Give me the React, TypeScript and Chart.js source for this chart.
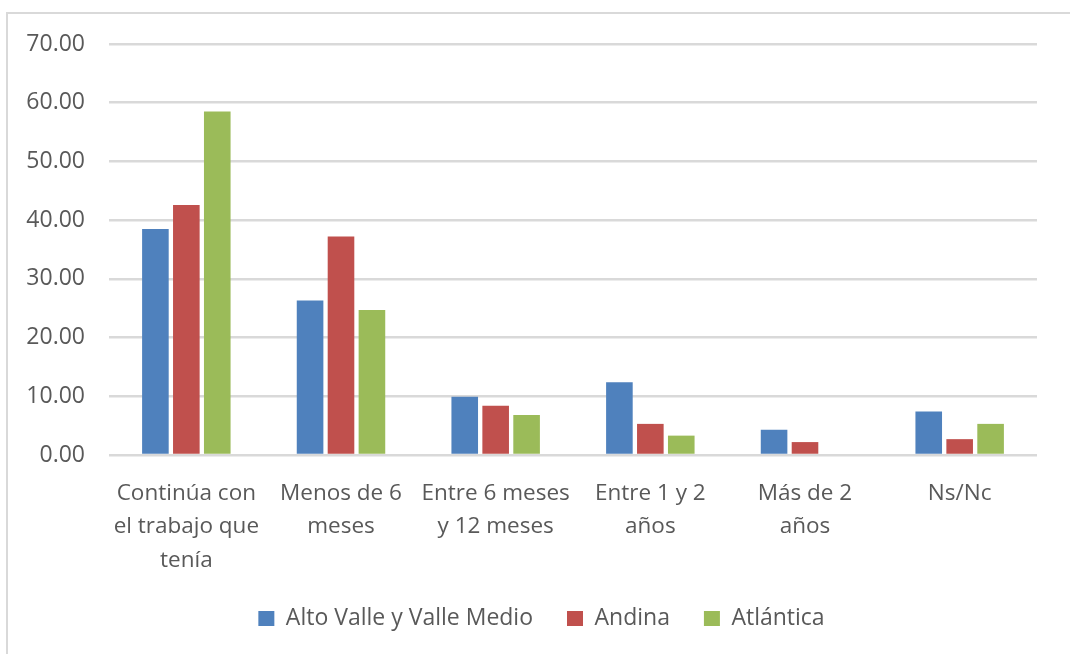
import React, { useEffect, useRef } from "react";
import { Chart, registerables } from "chart.js";

Chart.register(...registerables);

const categories: string[][] = [
  ["Continúa con", "el trabajo que", "tenía"],
  ["Menos de 6", "meses"],
  ["Entre 6 meses", "y 12 meses"],
  ["Entre 1 y 2", "años"],
  ["Más de 2", "años"],
  ["Ns/Nc"],
];

const altoValle: number[] = [38.5, 26.3, 9.9, 12.4, 4.3, 7.4];
const andina: number[] = [42.6, 37.2, 8.4, 5.3, 2.2, 2.7];
const atlantica: number[] = [58.5, 24.7, 6.8, 3.3, 0, 5.3];

const seriesNames = ["Alto Valle y Valle Medio", "Andina", "Atlántica"];
const seriesColors = ["#4F81BD", "#C0504D", "#9BBB59"];

const yMin = 0;
const yMax = 70;
const yStep = 10;

const FONT = "'Open Sans', 'Noto Sans', sans-serif";
const TEXT = "#595959";
const GRID = "#d9d9d9";

const legendShift = {
  id: "legendShift",
  afterLayout(chart: any) {
    const l = chart.legend;
    if (l) {
      l.left += 23;
      l.right += 23;
    }
  },
};

export default function App() {
  const ref = useRef<HTMLCanvasElement | null>(null);

  useEffect(() => {
    if (!ref.current) return;
    const values = [altoValle, andina, atlantica];
    const chart = new Chart(ref.current, {
      type: "bar",
      data: {
        labels: categories,
        datasets: values.map((v, i) => ({
          label: seriesNames[i],
          data: v,
          backgroundColor: seriesColors[i],
          borderWidth: 0,
          categoryPercentage: 0.6,
          barPercentage: 0.86,
        })),
      },
      plugins: [legendShift],
      options: {
        animation: false,
        responsive: false,
        maintainAspectRatio: false,
        layout: { padding: { left: 0, right: 33, top: 44, bottom: 14 } },
        plugins: {
          tooltip: { enabled: false },
          legend: {
            position: "bottom",
            labels: {
              boxWidth: 16,
              boxHeight: 15,
              padding: 34,
              color: TEXT,
              font: { family: FONT, size: 23 },
            },
          },
        },
        scales: {
          x: {
            grid: { display: false, drawTicks: false },
            border: { display: false },
            ticks: {
              color: TEXT,
              padding: 22,
              maxRotation: 0,
              autoSkip: false,
              font: { family: FONT, size: 22.5, lineHeight: 1.48 },
            },
            afterFit: (scale: any) => {
              scale.height = 118;
            },
          },
          y: {
            min: yMin,
            max: yMax,
            grid: { color: GRID, lineWidth: 2.5, drawTicks: false },
            border: { display: false },
            ticks: {
              stepSize: yStep,
              color: TEXT,
              padding: 24,
              font: { family: FONT, size: 23 },
              callback: (v: any) => Number(v).toFixed(2),
            },
            afterFit: (scale: any) => {
              scale.width = 109;
            },
          },
        },
      },
    });
    return () => chart.destroy();
  }, []);

  return (
    <div
      style={{
        position: "fixed",
        left: 0,
        top: 0,
        width: 1070,
        height: 654,
        overflow: "hidden",
        background: "#fff",
      }}
    >
      <canvas
        ref={ref}
        width={1070}
        height={654}
        style={{ position: "absolute", left: 0, top: 0, width: 1070, height: 654 }}
      />
      <div
        style={{
          position: "absolute",
          left: 6,
          top: 12,
          width: 1120,
          height: 700,
          border: "2px solid #d9d9d9",
          pointerEvents: "none",
        }}
      />
    </div>
  );
}
